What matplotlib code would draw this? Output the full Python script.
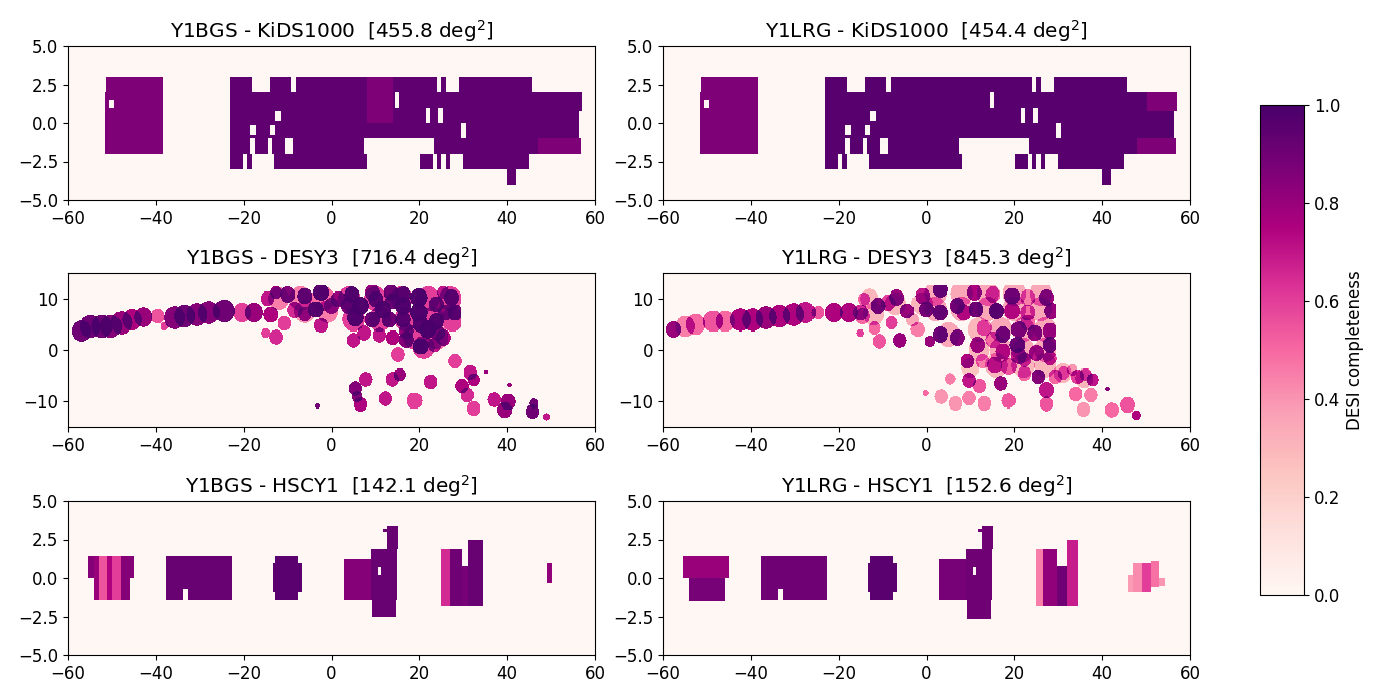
import numpy as np
import matplotlib
matplotlib.use("Agg")
import matplotlib.pyplot as plt

# Footprint blocks: (ra_min, ra_max, dec_min, dec_max)
KIDS_FOOTPRINT = [
    (-51.4, -38.5, -2.0, 3.0), (-51.7, -51.4, -2.0, 2.0),
    (-23.0, -18.0, 2.0, 3.0), (-14.0, -9.2, 2.0, 3.0), (-8.0, 24.0, 2.0, 3.0),
    (25.0, 26.0, 2.0, 3.0), (29.0, 45.5, 2.0, 3.0),
    (-23.0, 57.0, 0.8, 2.0), (-23.0, 56.3, -1.0, 0.8),
    (-23.0, -18.5, -2.0, -1.0), (-17.5, -14.5, -2.0, -1.0), (-13.6, -10.6, -2.0, -1.0),
    (-8.7, 7.4, -2.0, -1.0), (23.3, 56.7, -2.0, -1.0),
    (-23.0, -20.0, -3.0, -2.0), (-19.2, -18.0, -3.0, -2.0), (-13.3, 8.0, -3.0, -2.0),
    (20.0, 23.0, -3.0, -2.0), (24.0, 25.0, -3.0, -2.0), (26.0, 27.0, -3.0, -2.0),
    (30.0, 45.0, -3.0, -2.0), (40.0, 42.0, -4.0, -3.0),
]
KIDS_HOLES = [
    (-50.6, -49.6, 1.0, 1.5), (-13.0, -11.4, 0.15, 0.8), (-18.5, -17.0, -0.8, -0.15),
    (-14.0, -12.8, -0.8, -0.15), (14.4, 15.4, 1.0, 2.0), (21.5, 22.5, 0.0, 1.0),
    (24.4, 25.4, 0.0, 1.0), (29.4, 30.5, -1.0, 0.0),
]
KIDS_BGS_LEVELS = [0.94, 0.86]         # main footprint, western block
KIDS_LRG_LEVELS = [0.96, 0.86]
KIDS_WEST_BLOCK = (-51.7, -38.5, -2.0, 3.0)
KIDS_BGS_PALE = [(8.0, 14.0, 0.0, 3.0), (47.0, 56.7, -2.0, -1.0)]
KIDS_LRG_PALE = [(48.0, 56.7, -2.0, -1.0), (50.0, 57.0, 0.8, 2.0)]
KIDS_PALE_LEVEL = 0.86

# DES tiles: (ra, dec, radius scale, mean completeness)
DES_BGS_TILES = [
    (-56.9, 3.7, 1.3, .90), (-54.9, 4.6, 1.4, .90), (-52.2, 4.6, 1.4, .90), (-50.2, 4.6, 1.4, .85),
    (-47.8, 5.3, 1.4, .80), (-45.5, 5.9, 1.3, .75), (-42.9, 6.4, 1.2, .80), (-39.6, 6.6, .9, .55),
    (-38.1, 4.6, .5, .60), (-35.7, 6.3, 1.4, .85), (-33.4, 6.6, 1.4, .90), (-30.6, 6.9, 1.4, .85),
    (-27.9, 7.3, 1.4, .85), (-24.5, 7.6, 1.4, .90), (-20.4, 7.3, 1.2, .60), (-17.7, 7.3, 1.2, .80),
    (-13.8, 6.9, 1, .75), (-14.6, 10.0, .9, .70), (-12.6, 11.2, .8, .80), (-9.9, 10.8, 1, .85),
    (-6.0, 10.5, 1, .90), (-2.4, 11.2, 1, .95), (-3.6, 7.9, 1, .95), (-8.3, 7.8, 1, .65),
    (-10.7, 5.2, .9, .60), (-2.4, 4.8, .9, .70), (-15.0, 3.3, .6, .60), (-12.6, 2.5, .9, .65),
    (1.5, 9.9, 1, .80), (4.6, 10.8, 1, .95), (6.6, 8.6, 1.1, .98), (5.4, 6.3, 1.1, .95),
    (9.3, 11.2, 1, .80), (13.6, 11.2, 1, .90), (11.7, 7.9, 1.1, .95), (16.4, 8.6, 1.1, .95),
    (16.4, 10.8, 1, .90), (19.9, 10.2, 1.1, .98), (19.9, 7.3, 1.1, .98), (23.8, 8.9, 1, .85),
    (23.8, 5.6, 1, .95), (27.3, 10.2, 1, .90), (28.1, 7.3, 1, .90), (21.8, 4.0, 1.1, .98),
    (20.3, 0.7, 1, .98), (17.1, 2.0, 1, .85), (14.0, 2.4, .9, .75), (10.9, 2.9, .9, .70),
    (7.4, 3.3, .9, .70), (5.0, 1.9, .9, .70), (25.4, 2.4, 1, .75), (15.2, -0.9, .9, .60),
    (28.1, -2.2, .9, .60), (31.6, -4.4, .9, .70), (32.4, -5.8, .8, .75), (29.7, -7.0, .9, .75),
    (30.9, -8.8, .9, .65), (32.4, -11.4, .9, .60), (37.1, -9.7, .9, .70), (40.3, -10.1, 1, .80),
    (39.5, -11.7, 1, .80), (45.7, -12.0, .9, .90), (48.9, -13.0, .45, .70), (46.0, -10.4, .6, .90),
    (35.2, -4.2, .3, .80), (15.6, -4.8, .8, .80), (13.9, -5.7, .9, .70), (7.8, -5.7, .9, .70),
    (5.4, -7.5, .9, .85), (5.8, -9.1, .7, .85), (6.6, -10.6, .9, .75), (12.3, -9.5, .9, .70),
    (18.9, -9.9, 1, .60), (22.5, -6.2, .9, .70), (-3.2, -10.9, .3, .90), (40.6, -6.8, .3, .80),
    (-0.1, 8.6, 1, .70), (3.8, 8.6, 1, .85), (10.1, 9.9, 1, .90), (14.0, 9.5, 1, .90),
    (13.2, 5.9, 1, .90), (9.3, 5.9, 1, .90), (16.4, 5.9, 1, .90), (20.3, 5.0, 1, .95),
    (17.1, 3.7, 1, .80), (24.2, 3.3, .9, .80), (23.4, 1.0, .9, .70), (25.8, 7.3, 1, .80),
    (25.4, 11.2, .8, .70), (-6.0, 7.0, .9, .70),
]
# Wide shallow tiles under the contiguous part of the footprint
DES_BGS_FILL = [
    (4, 10, 1.5, .60), (10, 10, 1.5, .60), (16, 10, 1.5, .60), (22, 10, 1.5, .60), (27, 10, 1.5, .60),
    (5, 6, 1.5, .60), (11, 6, 1.5, .60), (17, 6, 1.5, .60), (23, 6, 1.5, .60), (27.5, 6, 1.5, .60),
    (19, 2.5, 1.5, .60), (24, 2.5, 1.5, .50), (21, 0.5, 1.4, .60),
    (-12, 10, 1.4, .45), (-7, 10, 1.5, .45), (-2, 10, 1.5, .50), (-6, 7.5, 1.4, .40), (-1, 7.5, 1.4, .45),
]
DES_LRG_TILES = [
    (-57.6, 4.0, 1, .80), (-54.9, 4.6, 1.3, .45), (-52.5, 5.0, 1.3, .50), (-48.6, 5.6, 1.3, .55),
    (-45.9, 5.6, 1.3, .50), (-42.4, 5.9, 1.4, .75), (-39.6, 5.9, 1.4, .75), (-36.5, 6.3, 1.4, .80),
    (-33.4, 6.6, 1.4, .75), (-30.2, 6.9, 1.4, .75), (-27.5, 7.3, 1.3, .70), (-24.7, 7.3, .8, .55),
    (-21.2, 7.3, 1.2, .75), (-17.7, 7.3, 1.2, .75), (-15.0, 7.3, 1, .65), (-15.1, 3.3, .5, .60),
    (-11.8, 4.3, .8, .50), (-10.7, 1.7, .9, .55), (-6.0, 1.9, .9, .80), (-2.0, 4.0, .9, .45),
    (-7.9, 5.3, .8, .60), (-11.0, 8.6, 1, .85), (-14.2, 9.9, .8, .50), (-6.7, 10.2, 1, .80),
    (-4.4, 7.6, .9, .80), (-0.1, 7.9, 1, .85), (3.1, 7.3, 1, .90), (-0.9, 10.5, 1, .70),
    (3.1, 11.8, 1, .90), (7.0, 8.6, 1, .85), (10.9, 11.2, 1, .75), (11.3, 7.9, 1, .90),
    (16.0, 7.6, 1, .95), (19.5, 10.5, 1, .85), (15.2, 10.8, 1, .50), (23.0, 10.2, 1, .45),
    (23.0, 7.3, 1, .50), (27.3, 10.2, 1, .80), (28.5, 7.6, 1, .80), (3.1, 3.0, 1, .90),
    (7.0, 2.4, 1, .85), (0.7, 1.7, .7, .80), (11.7, 1.0, 1, .70), (13.2, 4.3, 1, .45),
    (17.5, 3.0, 1, .85), (20.7, 1.0, 1, .90), (24.6, 3.3, 1, .80), (28.1, 1.0, 1, .85),
    (25.0, -0.6, 1, .70), (17.5, -0.3, 1, .60), (15.6, -2.9, 1, .60), (9.3, -2.2, .9, .75),
    (12.8, -2.2, .9, .45), (18.7, -3.2, 1, .55), (22.2, -4.6, .9, .50), (25.4, -5.2, .9, .85),
    (29.3, -5.2, .9, .50), (31.2, -4.5, .8, .45), (34.4, -5.2, .9, .60), (37.9, -5.8, .8, .70),
    (17.0, -6.5, .9, .80), (9.7, -5.9, .9, .70), (12.1, -7.0, .9, .55), (5.4, -5.6, .7, .45),
    (27.3, -7.8, 1, .70), (27.3, -10.5, .9, .55), (34.0, -8.6, .9, .50), (37.5, -8.8, .9, .45),
    (35.8, -11.6, .9, .40), (18.7, -9.9, .9, .55), (13.2, -10.4, .9, .45), (9.7, -9.4, .9, .45),
    (6.6, -10.4, .9, .40), (3.3, -9.1, .9, .40), (-0.3, -8.4, .4, .50), (42.2, -11.7, .9, .50),
    (45.7, -10.7, 1, .55), (47.7, -12.7, .6, .75), (41.3, -7.6, .3, .85),
    (8.5, 7.3, 1, .60), (19.5, 7.6, 1, .60), (23.0, 5.3, 1, .50), (21.0, 4.0, 1, .80),
    (28.1, 3.7, 1, .70), (28.1, -1.6, .9, .60), (21.0, -1.2, 1, .70), (15.2, 2.0, 1, .50),
    (22.2, -1.9, .9, .55), (33.2, -3.9, .7, .40), (36.3, -4.8, .8, .50), (-14.6, 6.6, 1, .50),
    (-8.7, 9.2, 1, .60), (-3.2, 5.9, .8, .35),
]
DES_LRG_FILL = [
    (2, 8, 1.5, .35), (8, 8, 1.5, .35), (14, 8, 1.5, .35), (20, 8, 1.5, .35), (26, 8, 1.5, .35),
    (2, 11, 1.5, .35), (8, 11, 1.5, .35), (14, 11, 1.5, .35), (20, 11, 1.5, .35), (26, 11, 1.5, .35),
    (22, 4, 1.5, .35), (17, 4, 1.5, .35), (27, 4, 1.5, .35), (12, 4, 1.5, .30), (5, 3, 1.5, .35),
    (-12, 7, 1.4, .30), (-7, 9, 1.4, .30), (-1, 9, 1.4, .30), (-13, 10, 1.2, .30),
    (27, 0, 1.5, .35), (22, 0, 1.5, .35), (17, 0, 1.5, .35), (12, 0, 1.4, .30),
    (16, -3, 1.5, .30), (22, -3, 1.5, .30), (27, -3, 1.5, .30), (10, -3.5, 1.2, .25),
    (31, -4.5, 1.2, .30), (36, -5.5, 1.2, .30),
]
DES_EAST_EDGE = (29.5, -1.5)
DES_TOP_EDGE = 12.6

# HSC patches: (ra_min, ra_max, dec_min, dec_max, mean completeness)
HSC_BGS_BLOCKS = [
    (-55.5, -54.1, 0.0, 1.4, .85), (-54.1, -52.8, -1.4, 1.4, .80), (-52.8, -51.0, -1.4, 1.4, .55),
    (-51.0, -49.8, -1.4, 1.4, .75), (-49.8, -48.0, -1.4, 1.4, .60), (-48.0, -46.0, -1.4, 1.4, .85),
    (-46.0, -45.0, 0.0, 1.4, .85),
    (-37.7, -22.8, -1.4, 1.4, .92), (-33.8, -32.6, -1.4, -0.7, 0),
    (-12.8, -7.5, -1.4, 1.4, .95), (-13.4, -6.7, -0.9, 1.0, .95),
    (2.7, 8.9, -1.45, 1.25, .85), (8.9, 15.0, -1.45, 1.9, .92), (9.2, 14.8, -2.55, -1.45, .92),
    (12.6, 15.2, 1.9, 3.4, .92), (11.7, 12.6, 3.0, 3.2, .92), (10.7, 11.3, 0.2, 0.7, 0),
    (24.8, 27.0, -1.8, 1.9, .65), (27.0, 29.7, -1.8, 1.9, .90), (29.7, 31.0, -1.8, 0.8, .88),
    (31.0, 34.6, -1.8, 2.5, .92), (49.0, 50.2, -0.3, 1.0, .82),
]
HSC_LRG_BLOCKS = [
    (-55.5, -45.0, 0.0, 1.4, .80), (-54.1, -45.9, -1.5, 0.0, .88),
    (-37.7, -22.8, -1.4, 1.4, .90), (-33.8, -32.6, -1.4, -0.7, 0),
    (-12.8, -7.5, -1.4, 1.4, .95), (-13.4, -6.7, -0.9, 1.0, .95),
    (2.7, 8.9, -1.45, 1.25, .88), (8.9, 15.0, -1.45, 1.9, .90), (9.2, 14.8, -2.65, -1.45, .90),
    (12.6, 15.2, 1.9, 3.4, .90), (11.7, 12.6, 3.0, 3.2, .90), (10.7, 11.3, 0.2, 0.7, 0),
    (24.8, 26.5, -1.8, 1.9, .45), (26.5, 29.7, -1.8, 1.9, .82), (29.7, 32.0, -1.8, 0.8, .90),
    (32.0, 34.6, -1.8, 2.5, .68),
    (45.7, 47.0, -0.9, 0.2, .38), (47.0, 49.0, -0.9, 1.0, .42), (49.0, 51.0, -0.9, 1.0, .60),
    (51.0, 53.0, -0.6, 1.1, .48), (53.0, 54.3, -0.5, 0.0, .40),
]

PANEL_TITLES = [
    "Y1BGS - KiDS1000  [455.8 deg$^2$]", "Y1LRG - KiDS1000  [454.4 deg$^2$]",
    "Y1BGS - DESY3  [716.4 deg$^2$]", "Y1LRG - DESY3  [845.3 deg$^2$]",
    "Y1BGS - HSCY1  [142.1 deg$^2$]", "Y1LRG - HSCY1  [152.6 deg$^2$]",
]
COLORBAR_LABEL = "DESI completeness"


def make_grid(dec_lim, dra, ddec):
    ra_edges = np.arange(-60, 60 + dra / 2, dra)
    dec_edges = np.arange(dec_lim[0], dec_lim[1] + ddec / 2, ddec)
    ra = 0.5 * (ra_edges[:-1] + ra_edges[1:])
    dec = 0.5 * (dec_edges[:-1] + dec_edges[1:])
    return ra_edges, dec_edges, ra, dec


def paint(z, ra, dec, box, value):
    mask_x = (ra >= box[0]) & (ra < box[1])
    mask_y = (dec >= box[2]) & (dec < box[3])
    z[np.ix_(mask_y, mask_x)] = value


def kids_map(levels, pale):
    xe, ye, ra, dec = make_grid((-5, 5), 0.3, 0.05)
    z = np.zeros((dec.size, ra.size))
    for box in KIDS_FOOTPRINT:
        paint(z, ra, dec, box, levels[0])
    west = (ra >= KIDS_WEST_BLOCK[0]) & (ra < KIDS_WEST_BLOCK[1])
    z[:, west] = np.where(z[:, west] > 0, levels[1], 0)
    for box in pale:
        paint(z, ra, dec, box, KIDS_PALE_LEVEL)
    for box in KIDS_HOLES:
        paint(z, ra, dec, box, 0)
    return xe, ye, z


def des_map(tiles):
    xe, ye, ra, dec = make_grid((-15, 15), 0.23, 0.2)
    rr, dd = np.meshgrid(ra, dec)
    miss = np.ones_like(rr)
    for t_ra, t_dec, scale, level in tiles:
        inside = ((rr - t_ra) / (1.72 * scale)) ** 2 + ((dd - t_dec) / (1.6 * scale)) ** 2 <= 1
        miss[inside] *= 1 - level
    z = 1 - miss
    z[(rr > DES_EAST_EDGE[0]) & (dd > DES_EAST_EDGE[1])] = 0
    z[dd > DES_TOP_EDGE] = 0
    return xe, ye, z


def hsc_map(blocks):
    xe, ye, ra, dec = make_grid((-5, 5), 0.23, 0.05)
    z = np.zeros((dec.size, ra.size))
    for ra0, ra1, dec0, dec1, level in blocks:
        paint(z, ra, dec, (ra0, ra1, dec0, dec1), level)
    return xe, ye, z


maps = [
    kids_map(KIDS_BGS_LEVELS, KIDS_BGS_PALE), kids_map(KIDS_LRG_LEVELS, KIDS_LRG_PALE),
    des_map(DES_BGS_FILL + DES_BGS_TILES), des_map(DES_LRG_FILL + DES_LRG_TILES),
    hsc_map(HSC_BGS_BLOCKS), hsc_map(HSC_LRG_BLOCKS),
]
yticks = [[-5, -2.5, 0, 2.5, 5], [-10, 0, 10], [-5, -2.5, 0, 2.5, 5]]
ylims = [(-5, 5), (-15, 15), (-5, 5)]

W, H = 1400.0, 700.0
lefts = [68, 663]
tops = [46, 273, 501]
fig = plt.figure(figsize=(14, 7), dpi=100)
mesh = None
for i, (xe, ye, z) in enumerate(maps):
    row, col = i // 2, i % 2
    ax = fig.add_axes([lefts[col] / W, 1 - (tops[row] + 154) / H, 527 / W, 154 / H])
    mesh = ax.pcolormesh(xe, ye, z, cmap="RdPu", vmin=0, vmax=1, shading="flat", rasterized=True)
    ax.set_xlim(-60, 60)
    ax.set_ylim(*ylims[row])
    ax.set_yticks(yticks[row])
    if row != 1:
        ax.set_yticklabels(["\u22125.0", "\u22122.5", "0.0", "2.5", "5.0"])
    ax.tick_params(labelsize=12)
    ax.set_title(PANEL_TITLES[i], fontsize=14.4, pad=6)

cax = fig.add_axes([1260 / W, 1 - 595 / H, 44 / W, 490 / H])
cb = fig.colorbar(mesh, cax=cax)
cb.set_ticks([0, 0.2, 0.4, 0.6, 0.8, 1.0])
cb.ax.tick_params(labelsize=12)
cb.set_label(COLORBAR_LABEL, fontsize=12)

fig.savefig("out.png", dpi=100)
